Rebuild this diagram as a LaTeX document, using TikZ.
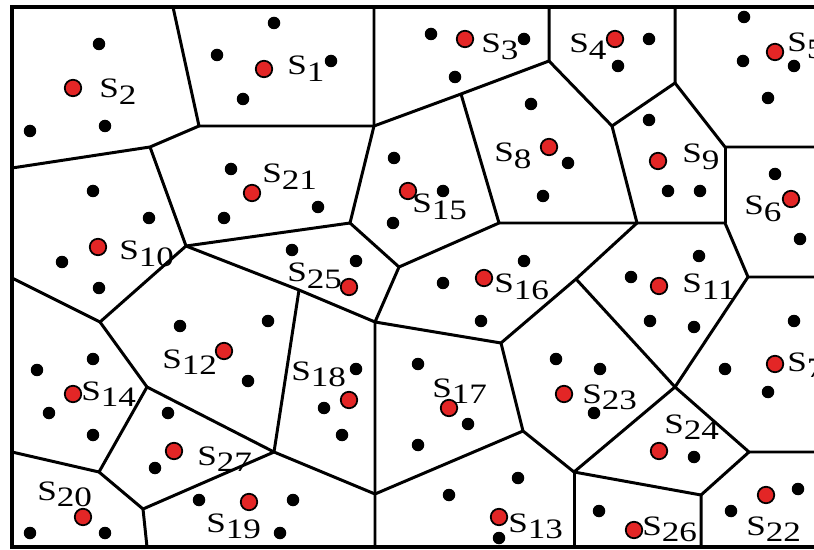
\documentclass[tikz,border=0pt]{standalone}
\usepackage{graphicx}
\usepackage{fontspec}
\setmainfont{Liberation Serif}
\definecolor{cred}{HTML}{E32626}
\newcommand{\sname}[1]{\scalebox{1.25}[1]{S\raisebox{-3.5pt}{#1}}}
\tikzset{
  every picture/.style={x=0.02cm, y=-0.02cm},
  edge/.style={draw=black, line width=1.7pt, line join=round},
  frame/.style={draw=black, line width=1.8pt},
  site/.style={circle, fill=cred, draw=black, line width=1pt, minimum size=0.33cm, inner sep=0pt},
  pt/.style={circle, fill=black, minimum size=0.25cm, inner sep=0pt},
  lab/.style={font=\fontsize{16}{16}\selectfont, anchor=base west, inner sep=0pt},
}

\begin{document}
\begin{tikzpicture}
  \useasboundingbox (0,0) rectangle (814,550);
  % frame
  \coordinate (tl) at (12,7);
  \coordinate (tr) at (814,7);
  \coordinate (bl) at (12,547);
  \coordinate (br) at (814,547);
  \draw[frame] (tr) -- (tl) -- (bl) -- (br);
  % points on the frame
  \coordinate (t1) at (173,7);
  \coordinate (t2) at (374,7);
  \coordinate (t3) at (549,7);
  \coordinate (t4) at (675,7);
  \coordinate (l1) at (12,168);
  \coordinate (l2) at (12,278);
  \coordinate (l3) at (12,452);
  \coordinate (b1) at (147,547);
  \coordinate (b2) at (375,547);
  \coordinate (b3) at (574,547);
  \coordinate (b4) at (701,547);
  \coordinate (r1) at (814,147);
  \coordinate (r2) at (814,277);
  \coordinate (r3) at (814,452);
  % inner vertices
  \coordinate (va) at (199,126);
  \coordinate (vb) at (374,126);
  \coordinate (vc) at (150,147);
  \coordinate (vd) at (186,246);
  \coordinate (ve) at (350,223);
  \coordinate (vf) at (461,94);
  \coordinate (vg) at (549,61);
  \coordinate (vh) at (612,126);
  \coordinate (vi) at (675,83);
  \coordinate (vj) at (725,147);
  \coordinate (vk) at (499,223);
  \coordinate (vm) at (637,223);
  \coordinate (vn) at (725,223);
  \coordinate (vo) at (748,277);
  \coordinate (vp) at (399,267);
  \coordinate (vq) at (375,322);
  \coordinate (vr) at (299,290);
  \coordinate (vs) at (576,279);
  \coordinate (vu) at (501,343);
  \coordinate (vw) at (675,387);
  \coordinate (vx) at (523,431);
  \coordinate (vy) at (574,472);
  \coordinate (vz) at (701,495);
  \coordinate (vaa) at (749,452);
  \coordinate (vbb) at (375,494);
  \coordinate (vcc) at (274,452);
  \coordinate (vdd) at (100,322);
  \coordinate (vee) at (147,387);
  \coordinate (vff) at (99,472);
  \coordinate (vgg) at (143,509);
  % cell borders
  \draw[edge] (t1) -- (va) -- (vc) -- (l1);
  \draw[edge] (t2) -- (vb) -- (ve) -- (vd) -- (vc);
  \draw[edge] (va) -- (vb) -- (vf) -- (vg) -- (t3);
  \draw[edge] (vg) -- (vh) -- (vi) -- (t4);
  \draw[edge] (vi) -- (vj) -- (r1);
  \draw[edge] (vf) -- (vk) -- (vm) -- (vn) -- (vo) -- (r2);
  \draw[edge] (vj) -- (vn);
  \draw[edge] (vh) -- (vm) -- (vs) -- (vu);
  \draw[edge] (ve) -- (vp) -- (vk);
  \draw[edge] (vp) -- (vq) -- (vu) -- (vx) -- (vy) -- (vw) -- (vs);
  \draw[edge] (vo) -- (vw) -- (vaa) -- (r3);
  \draw[edge] (vd) -- (vr) -- (vq) -- (vbb) -- (b2);
  \draw[edge] (vr) -- (vcc) -- (vbb) -- (vx);
  \draw[edge] (vy) -- (b3);
  \draw[edge] (vy) -- (vz) -- (b4);
  \draw[edge] (vz) -- (vaa);
  \draw[edge] (l2) -- (vdd) -- (vd);
  \draw[edge] (vdd) -- (vee) -- (vcc) -- (vgg) -- (b1);
  \draw[edge] (vee) -- (vff) -- (l3);
  \draw[edge] (vff) -- (vgg);
  % black points
  \foreach \x/\y [count=\i] in {99/44, 30/131, 105/126, 274/23, 217/55, 331/61, 243/99,
      431/34, 524/39, 455/77, 649/39, 618/66, 744/17, 743/61, 794/66, 768/98,
      231/169, 318/207, 224/218, 394/158, 443/191, 393/223, 531/104, 568/163, 543/196,
      649/120, 668/191, 700/191, 775/174, 800/239, 93/191, 149/218, 62/262, 99/288,
      292/250, 356/261, 524/261, 443/283, 481/321, 699/256, 631/277, 650/321, 694/327,
      794/321, 725/369, 768/392, 180/326, 268/321, 248/381, 37/370, 93/359, 49/413, 93/435,
      356/369, 324/408, 342/435, 418/364, 468/424, 418/445, 556/359, 600/369, 594/413,
      694/457, 168/413, 155/468, 30/533, 105/533, 199/500, 293/500, 280/533,
      518/478, 449/495, 499/538, 599/511, 798/489, 731/511}
    \node[pt] (p\i) at (\x,\y) {};
  % sites and their names
  \foreach \n/\x/\y/\lx/\ly in {1/264/69/287/75, 2/73/88/99/98, 3/465/39/481/53,
      4/615/39/569/53, 5/775/52/787/52, 6/791/199/744/215, 7/775/364/787/371,
      8/549/147/494/162, 9/658/161/682/163, 10/98/247/119/260, 11/659/286/682/293,
      12/224/351/162/368, 13/499/517/508/532, 14/73/394/81/400, 15/408/191/412/213,
      16/484/278/494/293, 17/449/408/432/397, 18/349/400/291/380, 19/249/502/206/532,
      20/83/517/37/500, 21/252/193/262/183, 22/766/495/746/535, 23/564/394/582/403,
      24/659/451/664/433, 25/349/287/287/282, 26/634/530/642/535, 27/174/451/197/465}
  {
    \node[lab] (n\n) at (\lx,\ly) {\sname{\n}};
    \node[site] (s\n) at (\x,\y) {};
  }
\end{tikzpicture}
\end{document}
